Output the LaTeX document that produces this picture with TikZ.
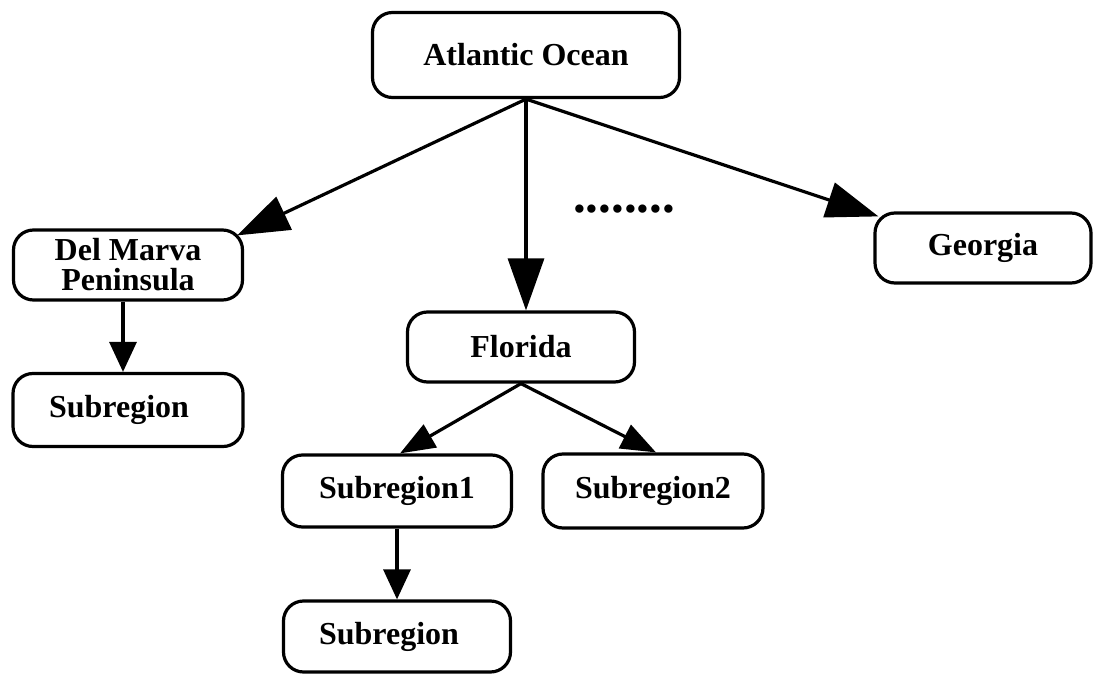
\documentclass[tikz,border=0pt]{standalone}
\usepackage{fontspec}
\setmainfont{Liberation Serif}
\usetikzlibrary{arrows.meta}
\begin{document}
\begin{tikzpicture}[x=1pt,y=-1pt,
  box/.style={draw, line width=3.2pt, rounded corners=20pt, inner sep=0pt, align=center,
    font=\bfseries\fontsize{32}{30}\selectfont},
  bigarrow/.style={line width=3.2pt, -{Triangle[length=52pt,width=36pt]}},
  midarrow/.style={line width=3.2pt, -{Triangle[length=35pt,width=26pt]}},
  smallarrow/.style={line width=3.2pt, -{Triangle[length=30pt,width=27pt]}}]
\useasboundingbox (0,0) rectangle (1096,674);

\node[box, minimum width=307pt, minimum height=85pt] (atl) at (526,55) {Atlantic Ocean};
\node[box, minimum width=229pt, minimum height=70pt] (dm) at (128,265) {Del Marva\\Peninsula};
\node[box, minimum width=216pt, minimum height=70pt] (geo) at (983,248) {Georgia};
\node[box, minimum width=227pt, minimum height=70pt] (fl) at (521,347) {Florida};
\node[box, minimum width=230pt, minimum height=73pt] (subL) at (128,410) {Subregion\hspace*{18pt}};
\node[box, minimum width=229pt, minimum height=72pt] (sub1) at (397,491) {Subregion1};
\node[box, minimum width=220pt, minimum height=74pt] (sub2) at (653,491) {Subregion2};
\node[box, minimum width=227pt, minimum height=71pt] (subB) at (397,636.5) {Subregion\hspace*{16pt}};

\node[font=\bfseries\fontsize{51}{51}\selectfont, inner sep=0pt, anchor=base west] (dots) at (573,213) {........};

\draw[bigarrow] (atl.south) -- ([xshift=-7pt,yshift=-7pt]dm.north east);
\draw[bigarrow] (atl.south) -- (atl.south |- fl.north);
\draw[bigarrow] (atl.south) -- ([xshift=5pt,yshift=-5pt]geo.north west);
\draw[smallarrow] ([xshift=-5pt]dm.south) -- ([xshift=-5pt]subL.north);
\draw[midarrow] (fl.south) -- ([xshift=3pt]sub1.north);
\draw[midarrow] (fl.south) -- ([xshift=3pt]sub2.north);
\draw[smallarrow] (sub1.south) -- (subB.north);
\end{tikzpicture}
\end{document}
